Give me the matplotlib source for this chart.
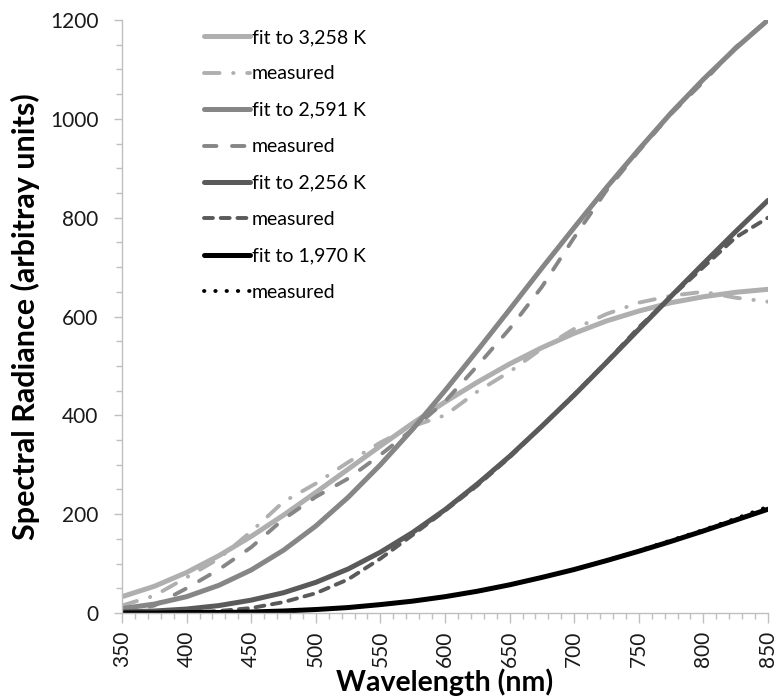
import matplotlib
matplotlib.use("Agg")
import matplotlib.pyplot as plt
from matplotlib.ticker import MultipleLocator

plt.rcParams['font.family'] = ['Lato', 'DejaVu Sans']

wavelength = [350, 375, 400, 425, 450, 475, 500, 525, 550, 575, 600,
              625, 650, 675, 700, 725, 750, 775, 800, 825, 850]

fit_3258 = [33, 54, 82, 116, 155, 198, 244, 291, 338, 384, 427,
            467, 504, 537, 566, 591, 611, 628, 640, 649, 655]
meas_3258 = [15, 35, 72, 110, 165, 225, 262, 305, 345, 378, 400,
             448, 488, 535, 575, 605, 628, 642, 650, 638, 630]

fit_2591 = [9, 18, 33, 56, 87, 127, 176, 234, 300, 372, 450,
            531, 614, 698, 780, 861, 938, 1012, 1080, 1143, 1200]
meas_2591 = [2, 15, 50, 88, 133, 190, 235, 272, 320, 372, 428,
             500, 575, 660, 760, 855, 935, 1010, 1075, 1145, 1200]

fit_2256 = [2, 4, 8, 15, 26, 41, 62, 89, 123, 163, 209,
            261, 317, 378, 441, 507, 574, 641, 707, 772, 835]
meas_2256 = [0, 0, 1, 4, 10, 22, 40, 68, 110, 158, 207,
             258, 315, 378, 442, 508, 578, 640, 700, 760, 800]

fit_1970 = [0, 0, 1, 1, 2, 4, 7, 11, 17, 24, 33,
            44, 57, 72, 88, 106, 125, 145, 166, 188, 210]
meas_1970 = [0, 0, 0, 1, 2, 4, 7, 11, 17, 24, 33,
             44, 57, 72, 88, 106, 126, 147, 168, 191, 215]

labels = ["fit to 3,258 K", "measured", "fit to 2,591 K", "measured",
          "fit to 2,256 K", "measured", "fit to 1,970 K", "measured"]

c_light = "#afafaf"
c_mid = "#868686"
c_dark = "#5a5a5a"
c_black = "#000000"

fig = plt.figure(figsize=(7.8, 7.0), dpi=100)
ax = fig.add_axes([0.1564, 0.1243, 0.8282, 0.8471])

fit_lw = 3.6
ms_lw = 2.8

ax.plot(wavelength, fit_3258, color=c_light, lw=fit_lw, solid_capstyle='round', label=labels[0])
ax.plot(wavelength, meas_3258, color=c_light, lw=ms_lw, dashes=(4, 3.5, 0.1, 3.5),
        dash_capstyle='round', label=labels[1])
ax.plot(wavelength, fit_2591, color=c_mid, lw=fit_lw, solid_capstyle='round', label=labels[2])
ax.plot(wavelength, meas_2591, color=c_mid, lw=ms_lw, dashes=(3.2, 4.0),
        dash_capstyle='round', label=labels[3])
ax.plot(wavelength, fit_2256, color=c_dark, lw=fit_lw, solid_capstyle='round', label=labels[4])
ax.plot(wavelength, meas_2256, color=c_dark, lw=ms_lw, dashes=(2.3, 2.0),
        dash_capstyle='round', label=labels[5])
ax.plot(wavelength, fit_1970, color=c_black, lw=fit_lw, solid_capstyle='round', label=labels[6])
ax.plot(wavelength, meas_1970, color=c_black, lw=ms_lw, dashes=(0.1, 2.8),
        dash_capstyle='round', label=labels[7])

ax.set_xlim(350, 850)
ax.set_ylim(0, 1200)

for s in ['top', 'right']:
    ax.spines[s].set_visible(False)
for s in ['left', 'bottom']:
    ax.spines[s].set_color('#bfbfbf')
    ax.spines[s].set_linewidth(1.0)

ax.xaxis.set_major_locator(MultipleLocator(50))
ax.xaxis.set_minor_locator(MultipleLocator(10))
ax.yaxis.set_major_locator(MultipleLocator(200))
ax.yaxis.set_minor_locator(MultipleLocator(50))

ax.tick_params(axis='both', which='both', direction='out', color='#bfbfbf', width=1.0,
               labelcolor='#1a1a1a')
ax.tick_params(axis='x', which='major', length=7, labelsize=15, rotation=90, pad=6)
ax.tick_params(axis='x', which='minor', length=4)
ax.tick_params(axis='y', which='major', length=6, labelsize=15, pad=11)
ax.tick_params(axis='y', which='minor', length=4)

ax.set_xlabel("Wavelength (nm)", fontsize=20.5, fontweight='bold', labelpad=1)
ax.set_ylabel("Spectral Radiance (arbitray units)", fontsize=22, fontweight='bold', labelpad=7)

leg = ax.legend(loc='upper left', bbox_to_anchor=(0.115, 0.998), frameon=False,
                fontsize=14, handlelength=2.35, handletextpad=0.1,
                labelspacing=1.0, borderaxespad=0.0)

fig.savefig("out.png", dpi=100)
